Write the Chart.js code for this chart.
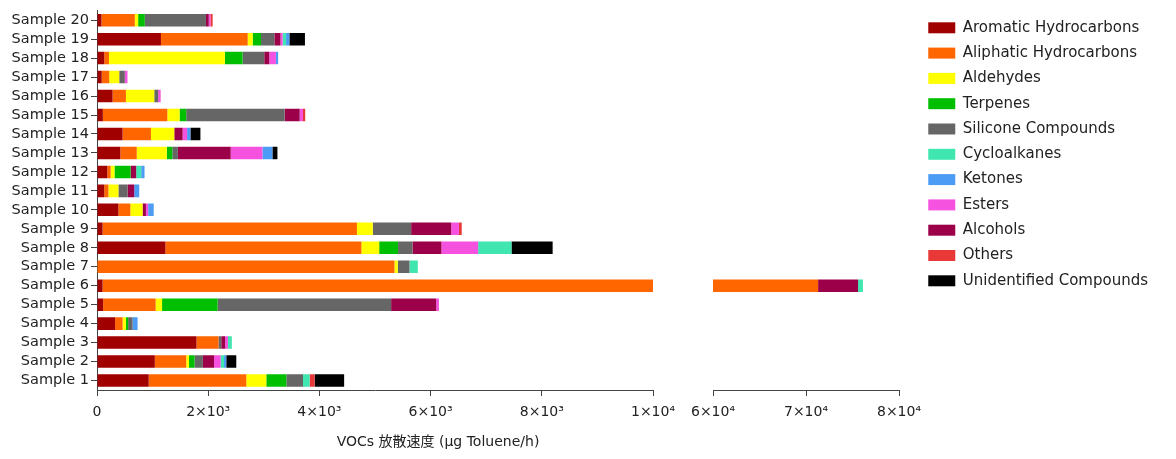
<!DOCTYPE html>
<html>
<head>
<meta charset="utf-8">
<script src="https://cdn.jsdelivr.net/npm/chart.js@4.4.1/dist/chart.umd.min.js"></script>
<style>
  body { margin: 0; background: #fff; }
</style>
</head>
<body>
<canvas id="vocChart" width="1176" height="459"></canvas>
<script>
// Data (Sample 1 .. Sample 20)
const samples = ['Sample 1', 'Sample 2', 'Sample 3', 'Sample 4', 'Sample 5', 'Sample 6', 'Sample 7',
  'Sample 8', 'Sample 9', 'Sample 10', 'Sample 11', 'Sample 12', 'Sample 13', 'Sample 14',
  'Sample 15', 'Sample 16', 'Sample 17', 'Sample 18', 'Sample 19', 'Sample 20'];

const aromatic     = [930, 1040, 1790, 325, 110, 100, 0, 1230, 100, 385, 130, 185, 420, 460, 105, 280, 85, 130, 1150, 80];
const aliphatic    = [1755, 565, 395, 135, 945, 71200, 5350, 3525, 4575, 215, 75, 60, 295, 510, 1160, 240, 135, 85, 1560, 600];
const aldehydes    = [360, 50, 0, 60, 115, 0, 60, 320, 285, 220, 180, 70, 540, 420, 220, 510, 180, 2085, 90, 60];
const terpenes     = [360, 100, 0, 40, 1000, 0, 0, 340, 0, 0, 0, 290, 100, 0, 120, 0, 0, 318, 150, 120];
const silicone     = [300, 150, 50, 80, 3120, 0, 210, 260, 690, 0, 165, 0, 100, 0, 1770, 70, 100, 390, 240, 1100];
const alcohols     = [0, 200, 70, 0, 810, 4300, 0, 520, 720, 60, 120, 100, 950, 150, 270, 0, 0, 90, 110, 50];
const esters       = [0, 120, 50, 0, 50, 0, 0, 660, 140, 40, 0, 0, 570, 80, 60, 45, 48, 120, 40, 30];
const cycloalkanes = [120, 60, 70, 0, 0, 520, 150, 600, 0, 0, 0, 90, 0, 0, 0, 0, 0, 0, 60, 0];
const ketones      = [0, 40, 0, 90, 0, 0, 0, 0, 0, 100, 90, 60, 180, 60, 0, 0, 0, 40, 60, 0];
const others       = [90, 0, 0, 0, 0, 0, 0, 0, 50, 0, 0, 0, 0, 0, 40, 0, 0, 0, 0, 40];
const unidentified = [530, 180, 0, 0, 0, 0, 0, 740, 0, 0, 0, 0, 90, 180, 0, 0, 0, 0, 280, 0];

// broken x axis: two segments
const leftTicks = [0, 2000, 4000, 6000, 8000, 10000];
const leftTickLabels = ['0', '2×10³', '4×10³', '6×10³', '8×10³', '1×10⁴'];
const rightTicks = [60000, 70000, 80000];
const rightTickLabels = ['6×10⁴', '7×10⁴', '8×10⁴'];
const xTitle = 'VOCs 放散速度 (μg Toluene/h)';

// stacking order of the bars
const series = [
  ['Aromatic Hydrocarbons', aromatic, '#a00000'],
  ['Aliphatic Hydrocarbons', aliphatic, '#ff6600'],
  ['Aldehydes', aldehydes, '#ffff00'],
  ['Terpenes', terpenes, '#00bf00'],
  ['Silicone Compounds', silicone, '#666666'],
  ['Alcohols', alcohols, '#9c0048'],
  ['Esters', esters, '#f552e0'],
  ['Cycloalkanes', cycloalkanes, '#3fe6b0'],
  ['Ketones', ketones, '#4c9cf5'],
  ['Others', others, '#e83838'],
  ['Unidentified Compounds', unidentified, '#000000']
];
// order shown in the legend
const legendOrder = ['Aromatic Hydrocarbons', 'Aliphatic Hydrocarbons', 'Aldehydes', 'Terpenes',
  'Silicone Compounds', 'Cycloalkanes', 'Ketones', 'Esters', 'Alcohols', 'Others', 'Unidentified Compounds'];

const FONT = "'DejaVu Sans', 'Noto Sans CJK JP', sans-serif";
const TEXT = '#222';
const AXIS = '#444';
const segLeftEnd = 653, segRightStart = 713, segRightEnd = 899;

Chart.defaults.font.family = FONT;
Chart.defaults.color = TEXT;

function makeSets(axisId) {
  return series.map(s => ({
    label: s[0],
    data: s[1],
    backgroundColor: s[2],
    borderWidth: 0,
    xAxisID: axisId,
    stack: 'voc',
    barPercentage: 0.66,
    categoryPercentage: 1
  }));
}

// place the two x scales side by side, with a gap
const brokenAxis = {
  id: 'brokenAxis',
  afterLayout(chart) {
    const x = chart.scales.x, x2 = chart.scales.x2;
    x.right = segLeftEnd;
    x.width = x.right - x.left;
    x2.left = segRightStart;
    x2.right = segRightEnd;
    x2.width = x2.right - x2.left;
    x2.top = x.top;
    x2.bottom = x.bottom;
    x2.height = x.height;
    [x, x2].forEach(s => { s.configure(); s._labelItems = null; s._gridLineItems = null; });
  },
  beforeDatasetDraw(chart, args) {
    const s = args.meta.xScale, a = chart.chartArea, ctx = chart.ctx;
    ctx.save();
    ctx.beginPath();
    ctx.rect(s.left, a.top, s.right - s.left, a.bottom - a.top);
    ctx.clip();
  },
  afterDatasetDraw(chart) {
    chart.ctx.restore();
  },
  afterDraw(chart) {
    const ctx = chart.ctx;
    ctx.save();
    ctx.font = '14px ' + FONT;
    ctx.fillStyle = TEXT;
    ctx.textAlign = 'center';
    ctx.textBaseline = 'middle';
    ctx.fillText(xTitle, 438, chart.height - 17);
    ctx.restore();
  }
};

const tickFont = { size: 14, family: FONT };

new Chart(document.getElementById('vocChart'), {
  type: 'bar',
  data: {
    labels: samples,
    datasets: makeSets('x').concat(makeSets('x2'))
  },
  options: {
    indexAxis: 'y',
    responsive: false,
    animation: false,
    layout: { padding: { top: 10, right: 18, left: 0, bottom: 0 } },
    scales: {
      y: {
        stacked: true,
        reverse: true,
        afterFit: s => { s.width = 97; },
        grid: { drawOnChartArea: false, drawTicks: true, tickLength: 6, offset: false, color: AXIS },
        border: { color: AXIS, width: 1 },
        ticks: { color: TEXT, font: { size: 14.5, family: FONT }, padding: 2, autoSkip: false }
      },
      x: {
        type: 'linear',
        position: 'bottom',
        stacked: true,
        min: 0,
        max: 10000,
        afterBuildTicks: s => { s.ticks = leftTicks.map(v => ({ value: v })); },
        afterFit: s => { s.height = 69; },
        grid: { drawOnChartArea: false, drawTicks: true, tickLength: 6, color: AXIS },
        border: { color: AXIS, width: 1 },
        ticks: { color: TEXT, font: tickFont, padding: 8, autoSkip: false, maxRotation: 0,
          callback: (v, i) => leftTickLabels[i] }
      },
      x2: {
        type: 'linear',
        position: 'bottom',
        stacked: true,
        min: 60000,
        max: 80000,
        afterBuildTicks: s => { s.ticks = rightTicks.map(v => ({ value: v })); },
        afterFit: s => { s.height = 0; },
        grid: { drawOnChartArea: false, drawTicks: true, tickLength: 6, color: AXIS },
        border: { color: AXIS, width: 1 },
        ticks: { color: TEXT, font: tickFont, padding: 8, autoSkip: false, maxRotation: 0,
          callback: (v, i) => rightTickLabels[i] }
      }
    },
    plugins: {
      tooltip: { enabled: false },
      legend: {
        position: 'right',
        align: 'start',
        labels: {
          color: TEXT,
          font: { size: 15, family: FONT },
          boxWidth: 27,
          boxHeight: 11,
          padding: 10.3,
          filter: item => item.datasetIndex < series.length,
          sort: (a, b) => legendOrder.indexOf(a.text) - legendOrder.indexOf(b.text)
        }
      }
    }
  },
  plugins: [brokenAxis]
});
</script>
</body>
</html>
